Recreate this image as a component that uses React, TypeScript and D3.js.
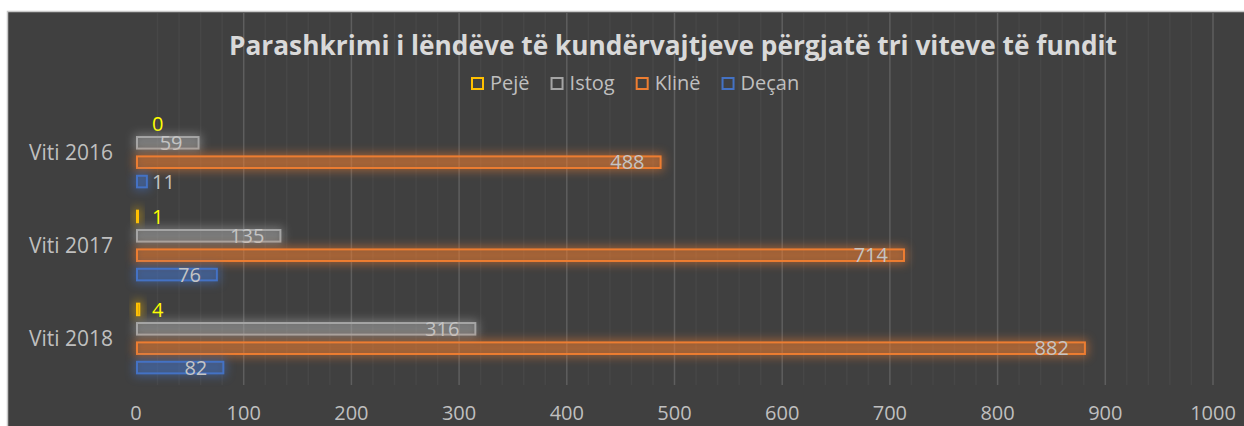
import { useEffect, useRef } from 'react';
import * as d3 from 'd3';

const years = ['Viti 2016', 'Viti 2017', 'Viti 2018'];
const seriesNames = ['Pejë', 'Istog', 'Klinë', 'Deçan'];
const peje = [0, 1, 4];
const istog = [59, 135, 316];
const kline = [488, 714, 882];
const decan = [11, 76, 82];
const xTicks = [0, 100, 200, 300, 400, 500, 600, 700, 800, 900, 1000];

const title = 'Parashkrimi i lëndëve të kundërvajtjeve përgjatë tri viteve të fundit';
const colors = ['#FFC000', '#A5A5A5', '#ED7D31', '#4472C4'];
const labelColors = ['#FFFF00', '#c4c4c4', '#c4c4c4', '#c4c4c4'];

function App() {
  const svgRef = useRef<SVGSVGElement>(null);

  useEffect(() => {
    const W = 1244;
    const H = 426;
    const font = '"Open Sans", sans-serif';
    const textColor = '#bfbfbf';

    const svg = d3.select(svgRef.current);
    svg.selectAll('*').remove();
    svg.attr('width', W).attr('height', H);

    const values = [peje, istog, kline, decan];

    // glow filter
    const defs = svg.append('defs');
    defs
      .append('filter')
      .attr('id', 'glow')
      .attr('x', '-50%')
      .attr('y', '-150%')
      .attr('width', '200%')
      .attr('height', '400%')
      .append('feGaussianBlur')
      .attr('stdDeviation', 5);

    svg.append('rect').attr('width', W).attr('height', H).attr('fill', '#ffffff');
    svg
      .append('rect')
      .attr('x', 7.5)
      .attr('y', 11.5)
      .attr('width', W)
      .attr('height', H)
      .attr('fill', '#404040')
      .attr('stroke', '#c8c8c8')
      .attr('stroke-width', 1.5);

    const x = d3.scaleLinear().domain([0, 1000]).range([136, 1213]);
    const y0 = d3.scaleBand().domain(years).range([106, 385]);
    const y1 = d3
      .scaleBand()
      .domain(seriesNames)
      .range([0, y0.bandwidth()])
      .paddingInner(0.3)
      .paddingOuter(0.55);

    // minor + major gridlines
    const minor = d3.range(20, 1001, 20).filter((d) => d % 100 !== 0);
    svg
      .append('g')
      .selectAll('line')
      .data(minor)
      .enter()
      .append('line')
      .attr('x1', (d) => x(d))
      .attr('x2', (d) => x(d))
      .attr('y1', 13)
      .attr('y2', 385)
      .attr('stroke', '#474747')
      .attr('stroke-width', 1.5);

    svg
      .append('g')
      .selectAll('line')
      .data(xTicks.slice(1))
      .enter()
      .append('line')
      .attr('x1', (d) => x(d))
      .attr('x2', (d) => x(d))
      .attr('y1', 13)
      .attr('y2', 385)
      .attr('stroke', '#5e5e5e')
      .attr('stroke-width', 1.5);

    // x tick labels
    svg
      .append('g')
      .selectAll('text')
      .data(xTicks)
      .enter()
      .append('text')
      .attr('x', (d) => x(d))
      .attr('y', 420)
      .attr('text-anchor', 'middle')
      .style('font-family', font)
      .style('font-size', '20px')
      .style('fill', textColor)
      .text((d) => d);

    // category labels
    svg
      .append('g')
      .selectAll('text')
      .data(years)
      .enter()
      .append('text')
      .attr('x', 113)
      .attr('y', (d) => y0(d)! + y0.bandwidth() / 2)
      .attr('dy', '0.35em')
      .attr('text-anchor', 'end')
      .style('font-family', font)
      .style('font-size', '21px')
      .style('fill', textColor)
      .text((d) => d);

    // bars
    seriesNames.forEach((name, si) => {
      const g = svg.append('g');
      const color = colors[si];
      years.forEach((year, yi) => {
        const v = values[si][yi];
        const top = y0(year)! + y1(name)!;
        const h = y1.bandwidth();
        const w = Math.max(x(v) - x(0), 3);
        if (v > 0) {
          g.append('rect')
            .attr('x', x(0) - 2)
            .attr('y', top - 2)
            .attr('width', w + 4)
            .attr('height', h + 4)
            .attr('fill', color)
            .attr('opacity', 0.5)
            .attr('filter', 'url(#glow)');
          g.append('rect')
            .attr('x', x(0) + 1)
            .attr('y', top + 1)
            .attr('width', Math.max(w - 2, 1))
            .attr('height', h - 2)
            .attr('fill', color)
            .attr('fill-opacity', 0.2)
            .attr('stroke', color)
            .attr('stroke-width', 2);
        }
        const inside = v >= 20;
        g.append('text')
          .attr('x', inside ? x(v) - 17 : Math.max(x(v) + 4, x(0) + 16))
          .attr('y', top + h / 2)
          .attr('dy', '0.36em')
          .attr('text-anchor', inside ? 'end' : 'start')
          .style('font-family', font)
          .style('font-size', '20px')
          .style('fill', labelColors[si])
          .text(v);
      });
    });

    // title
    svg
      .append('text')
      .attr('x', 673)
      .attr('y', 55)
      .attr('text-anchor', 'middle')
      .attr('textLength', 888)
      .attr('lengthAdjust', 'spacingAndGlyphs')
      .style('font-family', font)
      .style('font-size', '26px')
      .style('font-weight', 'bold')
      .style('fill', '#d9d9d9')
      .text(title);

    // legend
    const legend = svg.append('g').attr('transform', 'translate(471, 0)');
    let offset = 0;
    seriesNames.forEach((name, i) => {
      const item = legend.append('g').attr('transform', `translate(${offset}, 0)`);
      item
        .append('rect')
        .attr('x', 1)
        .attr('y', 78)
        .attr('width', 11)
        .attr('height', 11)
        .attr('fill', 'none')
        .attr('stroke', colors[i])
        .attr('stroke-width', 2);
      const t = item
        .append('text')
        .attr('x', 19)
        .attr('y', 90)
        .style('font-family', font)
        .style('font-size', '20px')
        .style('fill', textColor)
        .text(name);
      const tw = (t.node() as SVGTextElement).getComputedTextLength();
      offset += 19 + tw + 21;
    });
  }, []);

  return <svg ref={svgRef} style={{ position: 'absolute', left: 0, top: 0 }}></svg>;
}

export default App;
